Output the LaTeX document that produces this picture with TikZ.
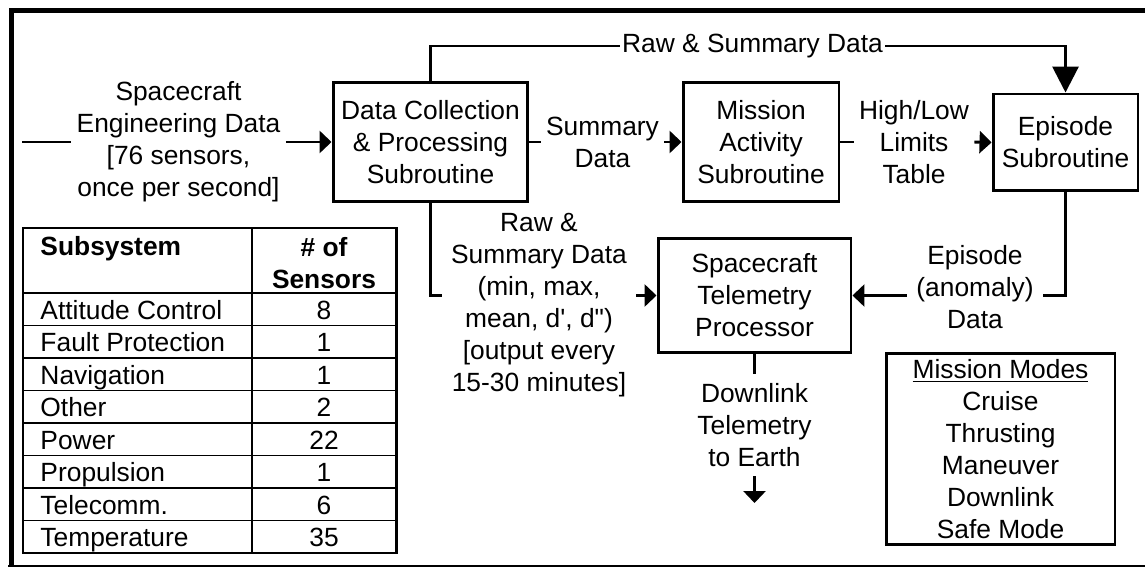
\documentclass[tikz,border=0pt]{standalone}
\usepackage{fontspec}
\setmainfont{Liberation Sans}[Ligatures=TeXOff]
\usetikzlibrary{arrows.meta}
\begin{document}
\begin{tikzpicture}[x=0.02cm,y=-0.02cm,
        font=\fontsize{15}{18.2}\selectfont,
        line width=1.7pt,
        blk/.style={draw,align=center,inner sep=0pt},
        lbl/.style={align=center,inner xsep=0.08cm,inner ysep=0pt},
        arr/.style={-{Triangle[length=0.24cm,width=0.44cm]}},
        bigarr/.style={-{Triangle[length=0.52cm,width=0.52cm]}},
        rule/.style={line width=1.1pt},
        cell/.style={inner sep=0pt}]
        	\useasboundingbox (0,0) rectangle (1145,567);
        	\draw[line width=2.8pt] (11.5,566) -- (11.5,10.5) -- (1145,10.5);
        	\draw[line width=0.6pt] (8,566) -- (1145,566);
            \node[blk,minimum width=3.9cm,minimum height=2.4cm] (dcp) at (430.5,142) {Data Collection\\\& Processing\\Subroutine};
            \node[blk,minimum width=3.12cm,minimum height=2.4cm] (mas) at (761,142) {Mission\\Activity\\Subroutine};
            \node[blk,minimum width=2.9cm,minimum height=1.94cm] (eps) at (1065.5,142.5) {Episode\\Subroutine};
            \node[blk,minimum width=3.86cm,minimum height=2.3cm] (stp) at (754.5,295.5) {Spacecraft\\Telemetry\\Processor};
            \node[blk,minimum width=4.58cm,minimum height=3.84cm] (modes) at (1000.5,449) {\underline{Mission Modes}\\Cruise\\Thrusting\\Maneuver\\Downlink\\Safe Mode};
            \coordinate (src) at (22,142);
            \node[lbl] (sed) at (178.5,142) {Spacecraft\\Engineering Data\\{[76 sensors,}\\once per second]};
            \node[lbl] (sumd) at (602.5,142) {Summary\\Data};
            \node[lbl] (hll) at (914,142) {High/Low\\Limits\\Table};
            \node[lbl,inner xsep=0.02cm] (rsd) at (752.5,46) {Raw \& Summary Data};
            \node[lbl,inner xsep=0.16cm] (rsm) at (539,305.5) {Raw \&\\Summary Data\\(min, max,\\mean, d', d")\\{[output every}\\15-30 minutes]};
            \node[lbl,inner xsep=0.16cm] (epd) at (975,287) {Episode\\(anomaly)\\Data};
            \node[lbl,inner ysep=0.16cm] (dlk) at (754.5,425) {Downlink\\Telemetry\\to Earth};
            \coordinate (earth) at (754.5,503);
            \draw (src) -- (sed.west);
            \draw[arr] (sed.east) -- (dcp.west);
            \draw (dcp.east) -- (sumd.west);
            \draw[arr] (sumd.east) -- (mas.west);
            \draw (mas.east) -- (hll.west);
            \draw[arr] (hll.east) -- (eps.west);
            \draw (dcp.north) |- (rsd.west);
            \draw[bigarr] (rsd.east) -| (eps.north);
            \draw (dcp.south) |- (rsm.west |- stp);
            \draw[arr] (rsm.east |- stp) -- (stp.west);
            \draw (eps.south) |- (epd.east |- stp);
            \draw[arr] (epd.west |- stp) -- (stp.east);
            \draw (stp.south) -- (dlk.north);
            \draw[arr] (dlk.south) -- (earth);
            \draw (23,228) rectangle (396,553);
            \draw[rule] (252,228) -- (252,553);
            \node[cell,anchor=base west] (hsub) at (39,256) {\bfseries Subsystem};
            \node[cell,align=center] (hnum) at (324,263) {\bfseries \# of\\\bfseries Sensors};
            \foreach \name/\num [count=\i from 0] in {Attitude Control/8,Fault Protection/1,Navigation/1,Other/2,Power/22,Propulsion/1,Telecomm./6,Temperature/35} {
                \draw[rule] (23,293+32.5*\i) -- (396,293+32.5*\i);
                \node[cell,anchor=base west] at (39,319+32.5*\i) {\name};
                \node[cell,anchor=base] at (324,319+32.5*\i) {\num};
            }
        \end{tikzpicture}
\end{document}
